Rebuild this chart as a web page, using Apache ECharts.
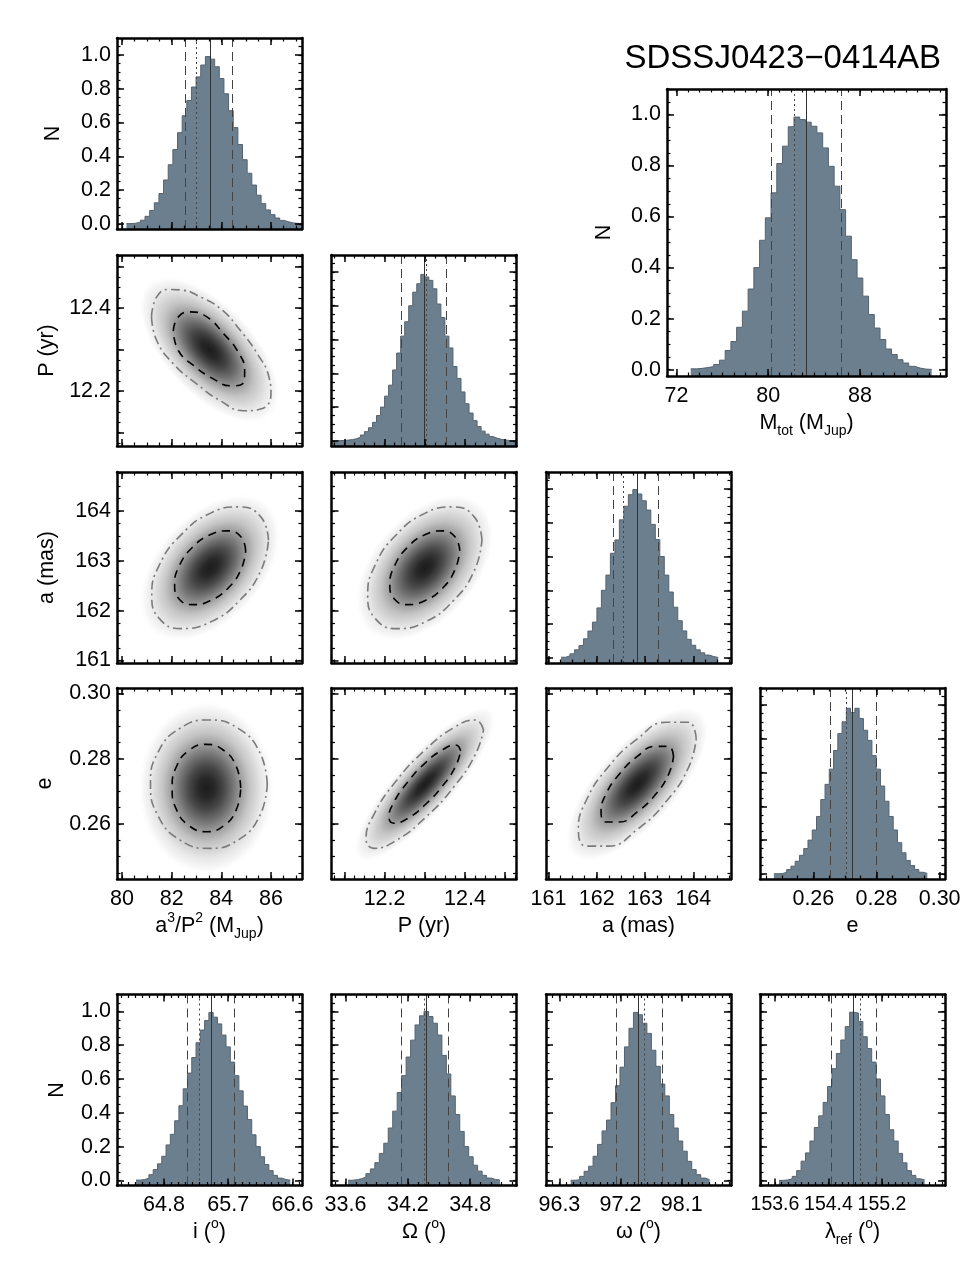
<!DOCTYPE html>
<html>
<head>
<meta charset="utf-8">
<title>SDSSJ0423-0414AB</title>
<script src="https://cdn.jsdelivr.net/npm/echarts@6/dist/echarts.min.js"></script>
<style>
  html, body { margin: 0; padding: 0; background: #fff; }
  #chart { width: 975px; height: 1275px; }
</style>
</head>
<body>
<div id="chart"></div>
<script>
// tick labels
const normTicks = [0, 0.2, 0.4, 0.6, 0.8, 1.0];
const massTicks = [80, 82, 84, 86];
const periodTicks = [12.1, 12.2, 12.3, 12.4, 12.5];
const periodLabels = [12.2, 12.4];
const smaTicks = [161, 162, 163, 164];
const eccTicks = [0.26, 0.28, 0.30];
const mtotTicks = [72, 80, 88];
const incTicks = [64.8, 65.7, 66.6];
const nodeTicks = [33.6, 34.2, 34.8];
const argTicks = [96.3, 97.2, 98.1];
const lamTicks = [153.6, 154.4, 155.2];

// axis ranges
const normRange = [-0.03, 1.1];
const massRange = [79.8, 87.25];
const periodRange = [12.068, 12.528];
const smaRange = [160.95, 164.78];
const eccRange = [0.2431, 0.3017];
const mtotRange = [71.18, 95.5];
const incRange = [64.143, 66.734];
const nodeRange = [33.465, 35.245];
const argRange = [96.103, 98.826];
const lamRange = [153.376, 156.142];

// histograms: [first bin edge, bin width] + normalised heights
const massBin = [80.18, 0.187];
const massHist = [0.002, 0.004, 0.01, 0.022, 0.045, 0.08, 0.125, 0.18, 0.26, 0.35, 0.44, 0.54, 0.64, 0.73, 0.81, 0.87, 0.94,
  0.99, 0.975, 0.93, 0.86, 0.77, 0.67, 0.57, 0.47, 0.38, 0.3, 0.23, 0.17, 0.12, 0.083, 0.055, 0.035, 0.021, 0.012, 0.006, 0.003, 0.001];
const periodBin = [12.07, 0.01];
const periodHist = [0.001, 0.002, 0.003, 0.005, 0.008, 0.013, 0.022, 0.035, 0.055, 0.078, 0.11, 0.15, 0.2, 0.265, 0.33, 0.42,
  0.52, 0.62, 0.705, 0.8, 0.88, 0.93, 0.985, 0.97, 0.95, 0.9, 0.81, 0.73, 0.62, 0.55, 0.44, 0.37, 0.29, 0.22, 0.165, 0.12,
  0.085, 0.058, 0.04, 0.026, 0.016, 0.01, 0.006, 0.003, 0.002, 0.001];
const smaBin = [161.26, 0.093];
const smaHist = [0.004, 0.012, 0.024, 0.048, 0.073, 0.113, 0.159, 0.212, 0.296, 0.4, 0.49, 0.619, 0.698, 0.817, 0.897, 0.966, 0.996,
  0.97, 0.93, 0.875, 0.79, 0.7, 0.6, 0.49, 0.39, 0.3, 0.22, 0.16, 0.11, 0.075, 0.048, 0.03, 0.017, 0.008, 0.003];
const eccBin = [0.2475, 0.00135];
const eccHist = [0.001, 0.002, 0.01, 0.026, 0.046, 0.075, 0.11, 0.15, 0.2, 0.26, 0.34, 0.44, 0.53, 0.62, 0.73, 0.83, 0.9, 0.98,
  0.955, 0.98, 0.92, 0.85, 0.79, 0.7, 0.62, 0.52, 0.43, 0.34, 0.26, 0.185, 0.125, 0.08, 0.05, 0.026, 0.01, 0.003];
const mtotBin = [73.25, 0.5];
const mtotHist = [0.003, 0.005, 0.008, 0.012, 0.02, 0.037, 0.075, 0.11, 0.166, 0.229, 0.316, 0.4, 0.507, 0.595, 0.693, 0.808,
  0.876, 0.952, 0.99, 0.98, 0.97, 0.954, 0.928, 0.869, 0.797, 0.719, 0.627, 0.523, 0.431, 0.359, 0.288, 0.216, 0.163, 0.118,
  0.081, 0.059, 0.039, 0.026, 0.013, 0.006, 0.002, 0.001];
const incBin = [64.41, 0.06];
const incHist = [0.002, 0.005, 0.014, 0.034, 0.064, 0.098, 0.143, 0.21, 0.273, 0.353, 0.442, 0.542, 0.635, 0.727, 0.815, 0.89,
  0.946, 0.994, 0.966, 0.926, 0.86, 0.79, 0.7, 0.62, 0.53, 0.44, 0.36, 0.27, 0.2, 0.14, 0.094, 0.058, 0.03, 0.014, 0.005, 0.002];
const nodeBin = [33.624, 0.043];
const nodeHist = [0.001, 0.004, 0.01, 0.02, 0.04, 0.068, 0.105, 0.16, 0.22, 0.31, 0.41, 0.52, 0.62, 0.73, 0.83, 0.92, 0.974,
  1.0, 0.97, 0.93, 0.86, 0.74, 0.63, 0.5, 0.39, 0.29, 0.2, 0.14, 0.09, 0.055, 0.03, 0.014, 0.006, 0.002];
const argBin = [96.466, 0.066];
const argHist = [0.001, 0.004, 0.024, 0.054, 0.084, 0.143, 0.213, 0.293, 0.357, 0.46, 0.56, 0.67, 0.79, 0.9, 0.994,
  0.98, 0.93, 0.87, 0.77, 0.675, 0.57, 0.5, 0.39, 0.31, 0.233, 0.173, 0.113, 0.064, 0.034, 0.014, 0.004];
const lamBin = [153.66, 0.066];
const lamHist = [0.0005, 0.003, 0.01, 0.024, 0.058, 0.114, 0.163, 0.233, 0.313, 0.382, 0.462, 0.556, 0.661, 0.751, 0.831, 0.91,
  0.995, 0.99, 0.94, 0.85, 0.78, 0.7, 0.6, 0.5, 0.39, 0.3, 0.233, 0.16, 0.104, 0.058, 0.03, 0.01, 0.003];

// vertical markers: [-1 sigma, dotted, median, +1 sigma]
const massMarks = [82.545, 82.98, 83.547, 84.44];
const periodMarks = [12.2404, 12.3026, 12.2984, 12.353];
const smaMarks = [162.337, 162.559, 162.834, 163.277];
const eccMarks = [0.26525, 0.27042, 0.27241, 0.27989];
const mtotMarks = [80.23, 82.27, 83.28, 86.33];
const incMarks = [65.123, 65.301, 65.462, 65.781];
const nodeMarks = [34.138, 34.361, 34.374, 34.591];
const argMarks = [97.131, 97.542, 97.464, 97.817];
const lamMarks = [154.434, 154.871, 154.771, 155.12];

// 2-d contours (inner dashed, outer dash-dot)
const massPeriodOut = [[81.19, 12.379], [81.4, 12.427], [81.87, 12.445], [82.48, 12.443], [83.02, 12.431], [83.96, 12.399],
  [84.77, 12.346], [85.45, 12.29], [85.92, 12.234], [86.0, 12.193], [85.59, 12.157], [84.91, 12.153], [83.96, 12.177],
  [83.02, 12.217], [82.07, 12.266], [81.4, 12.322]];
const massPeriodIn = [[82.07, 12.346], [82.27, 12.379], [82.75, 12.391], [83.42, 12.379], [84.1, 12.338], [84.64, 12.298],
  [84.94, 12.25], [84.84, 12.217], [84.37, 12.213], [83.7, 12.229], [82.88, 12.262], [82.27, 12.298]];
const massSmaOut = [[85.9, 163.41], [85.59, 163.88], [84.73, 164.08], [83.55, 163.95], [82.38, 163.52], [81.51, 162.92],
  [81.2, 162.31], [81.51, 161.84], [82.38, 161.64], [83.55, 161.77], [84.73, 162.2], [85.59, 162.8]];
const massSmaIn = [[84.98, 163.2], [84.79, 163.48], [84.27, 163.6], [83.55, 163.52], [82.84, 163.27], [82.31, 162.9],
  [82.12, 162.52], [82.31, 162.23], [82.84, 162.12], [83.55, 162.2], [84.27, 162.45], [84.79, 162.82]];
const periodSmaOut = [[12.442, 163.41], [12.423, 163.88], [12.371, 164.08], [12.3, 163.95], [12.229, 163.52], [12.177, 162.92],
  [12.158, 162.31], [12.177, 161.84], [12.229, 161.64], [12.3, 161.77], [12.371, 162.2], [12.423, 162.8]];
const periodSmaIn = [[12.387, 163.2], [12.375, 163.48], [12.344, 163.6], [12.3, 163.52], [12.257, 163.27], [12.225, 162.9],
  [12.213, 162.52], [12.225, 162.23], [12.257, 162.12], [12.3, 162.2], [12.344, 162.45], [12.375, 162.82]];
const massEccOut = [[85.85, 0.2722], [85.54, 0.2821], [84.68, 0.2893], [83.5, 0.2919], [82.33, 0.2893], [81.46, 0.2821],
  [81.15, 0.2722], [81.46, 0.2624], [82.33, 0.2551], [83.5, 0.2525], [84.68, 0.2551], [85.54, 0.2624]];
const massEccIn = [[84.78, 0.271], [84.6, 0.2777], [84.09, 0.2826], [83.4, 0.2844], [82.71, 0.2826], [82.2, 0.2777],
  [82.02, 0.271], [82.2, 0.2643], [82.71, 0.2594], [83.4, 0.2576], [84.09, 0.2594], [84.6, 0.2643]];
const periodEccOut = [[12.446, 0.2889], [12.426, 0.2919], [12.373, 0.2896], [12.3, 0.2826], [12.227, 0.2729], [12.174, 0.263],
  [12.154, 0.2555], [12.174, 0.2525], [12.227, 0.2548], [12.3, 0.2618], [12.373, 0.2715], [12.426, 0.2814]];
const periodEccIn = [[12.389, 0.2824], [12.377, 0.2842], [12.345, 0.2828], [12.3, 0.2786], [12.256, 0.2726], [12.223, 0.2666],
  [12.211, 0.262], [12.223, 0.2602], [12.256, 0.2616], [12.3, 0.2658], [12.345, 0.2718], [12.377, 0.2778]];
const smaEccOut = [[164.06, 0.2861], [163.9, 0.2912], [163.45, 0.2912], [162.84, 0.2861], [162.23, 0.2773], [161.78, 0.2671],
  [161.62, 0.2583], [161.78, 0.2532], [162.23, 0.2532], [162.84, 0.2583], [163.45, 0.2671], [163.9, 0.2773]];
const smaEccIn = [[163.59, 0.2807], [163.49, 0.2838], [163.22, 0.2838], [162.84, 0.2807], [162.47, 0.2753], [162.19, 0.2691],
  [162.09, 0.2637], [162.19, 0.2606], [162.47, 0.2606], [162.84, 0.2637], [163.22, 0.2691], [163.49, 0.2753]];

const FONT = '"Liberation Sans", Arial, Helvetica, sans-serif';
const FS = 21.5;
const RICH = {
  n: { fontSize: FS, fontFamily: FONT, color: '#000', lineHeight: 30 },
  sup: { fontSize: 14, fontFamily: FONT, color: '#000', lineHeight: 14, verticalAlign: 'top' },
  sub: { fontSize: 14, fontFamily: FONT, color: '#000', lineHeight: 14, verticalAlign: 'bottom' }
};

const grids = [], xAxes = [], yAxes = [], series = [];

// minor tick positions inside a range
function steps(lo, hi, step) {
  const out = [];
  const k0 = Math.ceil(lo / step - 1e-6), k1 = Math.floor(hi / step + 1e-6);
  for (let k = k0; k <= k1; k++) out.push(+(k * step).toFixed(6));
  return out;
}

function spec(range, ticks, minorStep, dec, labels, name, gap, size) {
  return { range, ticks, minorStep, dec, labels, name, gap, size };
}

// two axes on each side: one with major ticks + line, one with minor ticks
function addAxes(list, dim, gi, ax) {
  const first = list.length;
  const sides = dim === 'x' ? ['bottom', 'top'] : ['left', 'right'];
  const minor = steps(ax.range[0], ax.range[1], ax.minorStep);
  sides.forEach((side, k) => {
    const main = k === 0;
    list.push({
      gridIndex: gi, type: 'value', position: side, min: ax.range[0], max: ax.range[1], z: 5,
      splitLine: { show: false },
      axisLine: { show: true, onZero: false, lineStyle: { color: '#000', width: 2.5 } },
      axisTick: { show: true, inside: true, length: 7, customValues: ax.ticks, lineStyle: { color: '#000', width: 1.5 } },
      axisLabel: (main && ax.labels) ? {
        show: true, customValues: ax.labels, margin: dim === 'x' ? 9 : 6, hideOverlap: false,
        formatter: v => v.toFixed(ax.dec), color: '#000', fontSize: ax.size || FS, fontFamily: FONT
      } : { show: false },
      name: (main && ax.name) ? ax.name : '',
      nameLocation: 'middle', nameGap: ax.gap || 30,
      nameTextStyle: { color: '#000', fontSize: FS, fontFamily: FONT, lineHeight: 25, rich: RICH }
    });
    list.push({
      gridIndex: gi, type: 'value', position: side, min: ax.range[0], max: ax.range[1], z: 5,
      splitLine: { show: false },
      axisLine: { show: false, onZero: false },
      axisTick: { show: true, inside: true, length: 3.5, customValues: minor, lineStyle: { color: '#000', width: 1.2 } },
      axisLabel: { show: false }
    });
  });
  return first;
}

function addPanel(box, xa, ya) {
  const gi = grids.length;
  grids.push({ left: box[0], top: box[1], width: box[2], height: box[3] });
  return { x: addAxes(xAxes, 'x', gi, xa), y: addAxes(yAxes, 'y', gi, ya) };
}

function addHist(p, bin, vals, marks) {
  const data = vals.map((v, i) => [bin[0] + i * bin[1], v]);
  data.push([bin[0] + vals.length * bin[1], vals[vals.length - 1]]);
  const mk = (v, type, color) => ({ xAxis: v, lineStyle: { type, color, width: 1 } });
  series.push({
    type: 'line', xAxisIndex: p.x, yAxisIndex: p.y, data, step: 'end', symbol: 'none', silent: true, z: 2,
    lineStyle: { color: '#56636e', width: 1 },
    areaStyle: { color: '#6b7f8f', opacity: 1, origin: 'start' },
    markLine: {
      silent: true, symbol: ['none', 'none'], label: { show: false }, precision: 6,
      data: [mk(marks[0], [9, 5], '#444'), mk(marks[1], [2, 3], '#444'), mk(marks[2], 'solid', '#333'), mk(marks[3], [9, 5], '#444')]
    }
  });
}

const SHADE = [
  { offset: 0, color: '#1c1c1c' }, { offset: 0.12, color: '#282828' }, { offset: 0.25, color: '#474747' },
  { offset: 0.37, color: '#6e6e6e' }, { offset: 0.5, color: '#9c9c9c' }, { offset: 0.63, color: '#c4c4c4' },
  { offset: 0.81, color: '#e8e8e8' }, { offset: 0.92, color: '#f7f7f7' }, { offset: 1, color: 'rgba(255,255,255,0)' }
];

// grey density: an elliptical gradient fitted to the inner contour
function shade(params, api, pts) {
  const px = pts.map(p => api.coord(p));
  const n = px.length;
  let mx = 0, my = 0;
  px.forEach(p => { mx += p[0]; my += p[1]; });
  mx /= n; my /= n;
  let sxx = 0, syy = 0, sxy = 0;
  px.forEach(p => { const dx = p[0] - mx, dy = p[1] - my; sxx += dx * dx; syy += dy * dy; sxy += dx * dy; });
  sxx /= n; syy /= n; sxy /= n;
  const tr = (sxx + syy) / 2, df = Math.sqrt(((sxx - syy) / 2) ** 2 + sxy * sxy);
  const l1 = tr + df, l2 = Math.max(tr - df, 1);
  const ang = 0.5 * Math.atan2(2 * sxy, sxx - syy);
  const k = 2.0;
  const cs = params.coordSys;
  return {
    type: 'group',
    clipPath: { type: 'rect', shape: { x: cs.x, y: cs.y, width: cs.width, height: cs.height } },
    children: [{
      type: 'circle', shape: { cx: 0, cy: 0, r: 1 }, x: mx, y: my,
      scaleX: Math.sqrt(2 * l1) * k, scaleY: Math.sqrt(2 * l2) * k, rotation: -ang,
      style: { fill: new echarts.graphic.RadialGradient(0.5, 0.5, 0.5, SHADE) }
    }]
  };
}

function addDensity(p, inner, outer) {
  series.push({
    type: 'custom', coordinateSystem: 'cartesian2d', xAxisIndex: p.x, yAxisIndex: p.y,
    data: [inner[0]], silent: true, z: 1, renderItem: (params, api) => shade(params, api, inner)
  });
  [[outer, { color: '#7a7a7a', width: 1.6, type: [9, 4, 2, 4] }], [inner, { color: '#000', width: 1.6, type: [8, 6] }]]
    .forEach(([c, ls]) => {
      series.push({
        type: 'line', xAxisIndex: p.x, yAxisIndex: p.y, data: c.concat([c[0]]), smooth: 0.5,
        symbol: 'none', silent: true, lineStyle: ls, z: 3
      });
    });
}

// layout
const W = 185, H = 191;
const colL = [117, 331.5, 546, 760];
const rowT = [38, 255, 472, 688];
const botT = 994.5;

const massName = '{n|a}{sup|3}{n|/P}{sup|2}{n| (M}{sub|Jup}{n|)}';

const normX = spec(normRange, normTicks, 0.05, 1);
const normL = (gap) => spec(normRange, normTicks, 0.05, 1, normTicks, 'N', gap);
const massX = spec(massRange, massTicks, 0.5, 0);
const periodX = spec(periodRange, periodTicks, 0.025, 1);
const smaX = spec(smaRange, smaTicks, 0.25, 0);
const eccX = spec(eccRange, eccTicks, 0.005, 2);

// row 1
const p11 = addPanel([colL[0], rowT[0], W, H], massX, normL(51));
addHist(p11, massBin, massHist, massMarks);

// row 2
const p21 = addPanel([colL[0], rowT[1], W, H], massX, spec(periodRange, periodTicks, 0.025, 1, periodLabels, 'P (yr)', 57));
addDensity(p21, massPeriodIn, massPeriodOut);
const p22 = addPanel([colL[1], rowT[1], W, H], periodX, normX);
addHist(p22, periodBin, periodHist, periodMarks);

// row 3
const p31 = addPanel([colL[0], rowT[2], W, H], massX, spec(smaRange, smaTicks, 0.25, 0, smaTicks, 'a (mas)', 57));
addDensity(p31, massSmaIn, massSmaOut);
const p32 = addPanel([colL[1], rowT[2], W, H], periodX, smaX);
addDensity(p32, periodSmaIn, periodSmaOut);
const p33 = addPanel([colL[2], rowT[2], W, H], smaX, normX);
addHist(p33, smaBin, smaHist, smaMarks);

// row 4
const p41 = addPanel([colL[0], rowT[3], W, H], spec(massRange, massTicks, 0.5, 0, massTicks, massName, 28),
  spec(eccRange, eccTicks, 0.005, 2, eccTicks, 'e', 59));
addDensity(p41, massEccIn, massEccOut);
const p42 = addPanel([colL[1], rowT[3], W, H], spec(periodRange, periodTicks, 0.025, 1, periodLabels, '{n|P (yr)}', 28), eccX);
addDensity(p42, periodEccIn, periodEccOut);
const p43 = addPanel([colL[2], rowT[3], W, H], spec(smaRange, smaTicks, 0.25, 0, smaTicks, '{n|a (mas)}', 28), eccX);
addDensity(p43, smaEccIn, smaEccOut);
const p44 = addPanel([colL[3], rowT[3], W, H], spec(eccRange, eccTicks, 0.005, 2, eccTicks, '{n|e}', 28), normX);
addHist(p44, eccBin, eccHist, eccMarks);

// total mass
const pM = addPanel([667, 89, 279, 287],
  spec(mtotRange, mtotTicks, 1, 0, mtotTicks, '{n|M}{sub|tot}{n| (M}{sub|Jup}{n|)}', 30),
  spec([-0.025, 1.1], normTicks, 0.05, 1, normTicks, 'N', 50));
addHist(pM, mtotBin, mtotHist, mtotMarks);

// bottom row
const pI = addPanel([colL[0], botT, W, H], spec(incRange, incTicks, 0.1, 1, incTicks, '{n|i (}{sup|o}{n|)}', 32), normL(47));
addHist(pI, incBin, incHist, incMarks);
const pO = addPanel([colL[1], botT, W, H], spec(nodeRange, nodeTicks, 0.1, 1, nodeTicks, '{n|Ω (}{sup|o}{n|)}', 32), normX);
addHist(pO, nodeBin, nodeHist, nodeMarks);
const pW = addPanel([colL[2], botT, W, H], spec(argRange, argTicks, 0.1, 1, argTicks, '{n|ω (}{sup|o}{n|)}', 32), normX);
addHist(pW, argBin, argHist, argMarks);
const pL = addPanel([colL[3], botT, W, H],
  spec(lamRange, lamTicks, 0.1, 1, lamTicks, '{n|λ}{sub|ref}{n| (}{sup|o}{n|)}', 32, 19.5), normX);
addHist(pL, lamBin, lamHist, lamMarks);

const chart = echarts.init(document.getElementById('chart'), null, { renderer: 'canvas' });
chart.setOption({
  animation: false,
  backgroundColor: '#fff',
  title: {
    text: 'SDSSJ0423\u22120414AB', right: 29, top: 37,
    textStyle: { fontSize: 33, fontWeight: 'normal', color: '#000', fontFamily: FONT }
  },
  grid: grids,
  xAxis: xAxes,
  yAxis: yAxes,
  series: series
});
</script>
</body>
</html>
